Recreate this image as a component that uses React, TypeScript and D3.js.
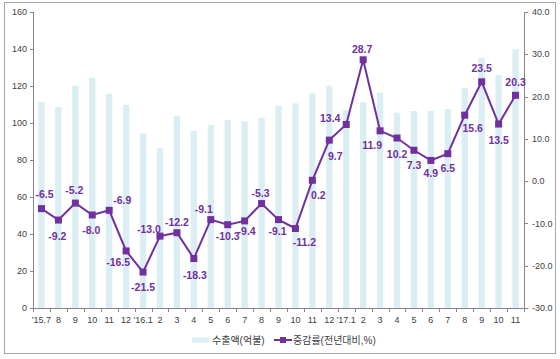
import React from "react";
import * as d3 from "d3";

const categories = ["'15.7","8","9","10","11","12","'16.1","2","3","4","5","6","7","8","9","10","11","12","'17.1","2","3","4","5","6","7","8","9","10","11"];
const exportValues = [111.4,108.6,120.2,124.5,115.8,109.7,94.4,86.3,103.9,95.8,98.9,101.6,100.9,102.9,109.4,110.6,116.0,120.2,107.0,111.2,116.4,105.6,106.5,106.5,107.6,118.9,135.1,125.9,139.8];
const growthValues = [-6.5,-9.2,-5.2,-8.0,-6.9,-16.5,-21.5,-13.0,-12.2,-18.3,-9.1,-10.3,-9.4,-5.3,-9.1,-11.2,0.2,9.7,13.4,28.7,11.9,10.2,7.3,4.9,6.5,15.6,23.5,13.5,20.3];
const leftTicks = [0,20,40,60,80,100,120,140,160];
const rightTicks = [-30,-20,-10,0,10,20,30,40];
const barLegend = "수출액(억불)";
const lineLegend = "증감률(전년대비,%)";

// label placement offsets (dx, dy) relative to each marker
const labelOffsets: [number, number][] = [
  [3,-14],[-1,16],[-1,-13],[-1,15],[13,-10],[-8,11],[0,15],[-11,-7],[0,-10],[1,17],
  [-7,-10],[0,12],[2,10],[-1,-10],[-1,12],[9,14],[6,15],[6,16],[-16,-6],[-1,-10],
  [-8,15],[0,16],[0,15],[0,13],[0,15],[8,13],[0,-13],[0,16],[0,-13]
];

const W = 560, H = 359;
const plot = { left: 33, right: 524, top: 12, bottom: 308 };
const purple = "#7030A0";
const barColor = "#DAEEF3";
const axisColor = "#868686";
const tickText = "#404040";
const font = "'Liberation Sans', Arial, 'Noto Sans CJK KR', sans-serif";

export default function App() {
  const x = d3.scaleBand<number>()
    .domain(d3.range(categories.length))
    .range([plot.left, plot.right])
    .paddingInner(0.62)
    .paddingOuter(0.31);
  const step = (plot.right - plot.left) / categories.length;
  const cx = (i: number) => plot.left + step * (i + 0.5);
  const yL = d3.scaleLinear().domain([0, 160]).range([plot.bottom, plot.top]);
  const yR = d3.scaleLinear().domain([-30, 40]).range([plot.bottom, plot.top]);
  const line = d3.line<number>().x((_, i) => cx(i)).y(d => yR(d));
  const bw = 6.3;

  return (
    <svg width={W} height={H} style={{ position: "absolute", left: 0, top: 0, fontFamily: font }}>
      <rect x={0} y={0} width={W} height={H} fill="#fff" />
      <rect x={4.5} y={2.5} width={551} height={351} fill="#fff" stroke="#a6a6a6" strokeWidth={1} />
      {/* bars */}
      {exportValues.map((v, i) => (
        <rect key={"b" + i} x={cx(i) - bw / 2} y={yL(v)} width={bw} height={yL(0) - yL(v)} fill={barColor} />
      ))}
      {/* left axis */}
      <line x1={plot.left + 0.5} x2={plot.left + 0.5} y1={plot.top} y2={plot.bottom} stroke={axisColor} />
      {leftTicks.map(t => (
        <g key={"l" + t}>
          <line x1={plot.left - 3} x2={plot.left + 0.5} y1={Math.round(yL(t)) + 0.5} y2={Math.round(yL(t)) + 0.5} stroke={axisColor} />
          <text x={plot.left - 6} y={yL(t)} dy="0.35em" textAnchor="end" fontSize={9} fill={tickText}>{t}</text>
        </g>
      ))}
      {/* right axis */}
      <line x1={plot.right + 0.5} x2={plot.right + 0.5} y1={plot.top} y2={plot.bottom} stroke={axisColor} />
      {rightTicks.map(t => (
        <g key={"r" + t}>
          <line x1={plot.right + 0.5} x2={plot.right + 4} y1={Math.round(yR(t)) + 0.5} y2={Math.round(yR(t)) + 0.5} stroke={axisColor} />
          <text x={plot.right + 8} y={yR(t)} dy="0.35em" textAnchor="start" fontSize={9} fill={tickText}>{t.toFixed(1)}</text>
        </g>
      ))}
      {/* bottom axis */}
      <line x1={plot.left} x2={plot.right} y1={plot.bottom + 0.5} y2={plot.bottom + 0.5} stroke={axisColor} />
      {d3.range(categories.length + 1).map(i => (
        <line key={"t" + i} x1={Math.round(plot.left + step * i) + 0.5} x2={Math.round(plot.left + step * i) + 0.5} y1={plot.bottom} y2={plot.bottom + 4} stroke={axisColor} />
      ))}
      {categories.map((c, i) => (
        <text key={"c" + i} x={cx(i)} y={plot.bottom + 12} dy="0.35em" textAnchor="middle" fontSize={9} fill={tickText}>{c}</text>
      ))}
      {/* line */}
      <path d={line(growthValues) || ""} fill="none" stroke={purple} strokeWidth={2} />
      {growthValues.map((v, i) => (
        <rect key={"m" + i} x={cx(i) - 3.5} y={yR(v) - 3.5} width={7} height={7} fill={purple} />
      ))}
      {growthValues.map((v, i) => (
        <text key={"v" + i} x={cx(i) + labelOffsets[i][0]} y={yR(v) + labelOffsets[i][1]} dy="0.35em" textAnchor="middle" fontSize={10.5} fontWeight="bold" fill={purple}>{v.toFixed(1)}</text>
      ))}
      {/* legend */}
      <rect x={192} y={337.5} width={17} height={5} fill={barColor} />
      <text x={212} y={340} dy="0.35em" fontSize={10} fill={tickText}>{barLegend}</text>
      <line x1={274} x2={292} y1={340} y2={340} stroke={purple} strokeWidth={2} />
      <rect x={280} y={337} width={6} height={6} fill={purple} />
      <text x={293} y={340} dy="0.35em" fontSize={10} fill={tickText}>{lineLegend}</text>
    </svg>
  );
}
